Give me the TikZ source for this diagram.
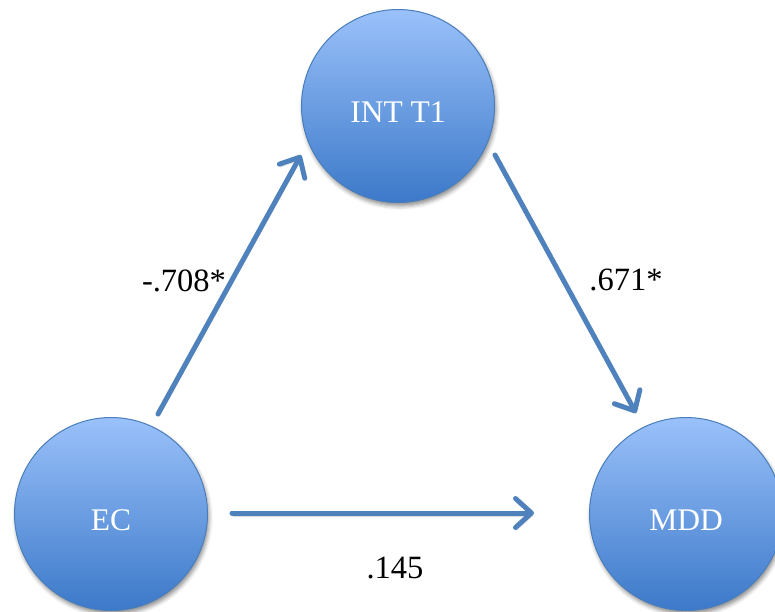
\documentclass[tikz,border=0pt]{standalone}
\usepackage{fontspec}
\setmainfont{Liberation Serif}
\usetikzlibrary{arrows.meta,shadows.blur}

\definecolor{pathblue}{HTML}{4F81BD}
\definecolor{ringblue}{HTML}{4A7EBB}
\definecolor{topblue}{HTML}{9AC1FA}
\definecolor{botblue}{HTML}{3C79C9}

\tikzset{
  var/.style={circle, minimum size=193pt, inner sep=0pt,
    draw=ringblue, line width=1pt,
    top color=topblue, bottom color=botblue,
    text=white, font=\fontsize{31.5}{38}\selectfont,
    text height=32pt, text depth=0pt,
    blur shadow={shadow xshift=1.5pt, shadow yshift=-3.5pt,
                 shadow blur radius=4pt, shadow opacity=45}},
  path/.style={draw=pathblue, line width=5pt, line cap=round,
    -{Straight Barb[length=16pt, width=29pt, round]},
    preaction={draw=black!30, opacity=0.45,
               transform canvas={shift={(1pt,-3pt)}}}},
  coef/.style={font=\fontsize{32.5}{39}\selectfont, text=black, inner sep=0pt}
}

\begin{document}
\begin{tikzpicture}[x=1pt, y=-1pt]
  \useasboundingbox (0,0) rectangle (775,611);

  % latent constructs
  \node[var] (int) at (398,106) {INT T1};
  \node[var] (ec)  at (111,514) {EC};
  \node[var] (mdd) at (686,514) {MDD};

  % free ends of the paths
  \coordinate (ecOut)  at (158,414);
  \coordinate (intIn)  at (301,155);
  \coordinate (intOut) at (495,155);
  \coordinate (mddIn)  at (636,413);
  \coordinate (ecRight) at (232,513);
  \coordinate (mddLeft) at (534,513);

  % structural paths
  \draw[path] (ecOut) -- (intIn);
  \draw[path] (intOut) -- (mddIn);
  \draw[path] (ecRight) -- (mddLeft);

  % path coefficients
  \node[coef] (a) at (184,281) {-.708*};
  \node[coef] (b) at (626,280) {.671*};
  \node[coef] (c) at (395,568) {.145};
\end{tikzpicture}
\end{document}
